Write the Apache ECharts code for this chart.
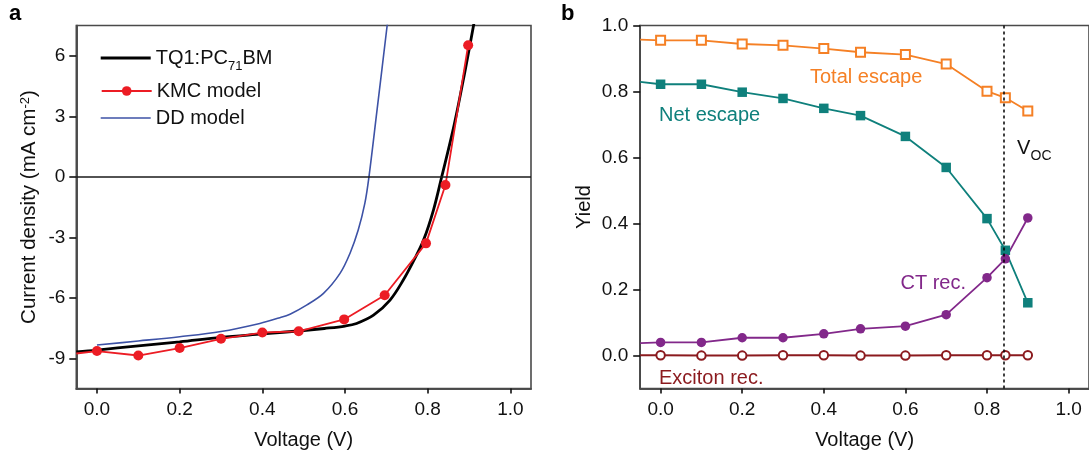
<!DOCTYPE html>
<html>
<head>
<meta charset="utf-8">
<title>J-V characteristics and charge yields</title>
<script src="https://cdn.jsdelivr.net/npm/echarts@6/dist/echarts.min.js"></script>
<style>
  html, body { margin: 0; padding: 0; background: #fff; }
  #chart { width: 1089px; height: 459px; }
</style>
</head>
<body>
<div id="chart"></div>
<script>
// ---- Panel a: current density vs voltage ----
const expV = [-0.05, 0, 0.1, 0.2, 0.3, 0.4, 0.5, 0.55, 0.6, 0.628, 0.669, 0.709, 0.741, 0.765, 0.79, 0.814, 0.834, 0.864, 0.89, 0.911, 0.93];
const expJ = [-8.68, -8.59, -8.38, -8.18, -7.96, -7.79, -7.62, -7.52, -7.40, -7.27, -6.86, -6.11, -5.12, -4.21, -3.14, -1.65, 0, 2.56, 5.2, 7.5, 9.6];

const kmcV = [-0.05, 0, 0.1, 0.2, 0.3, 0.4, 0.488, 0.598, 0.696, 0.796, 0.843, 0.898];
const kmcJ = [-8.76, -8.64, -8.86, -8.49, -8.03, -7.72, -7.66, -7.07, -5.87, -3.30, -0.41, 6.52];

const ddV = [0, 0.1, 0.2, 0.3, 0.394, 0.44, 0.467, 0.507, 0.548, 0.588, 0.612, 0.632, 0.648, 0.658, 0.677, 0.702, 0.71];
const ddJ = [-8.34, -8.14, -7.93, -7.67, -7.27, -7.0, -6.81, -6.36, -5.78, -4.79, -3.80, -2.64, -1.32, 0, 3.22, 7.5, 9.0];

const jTicks = [-9, -6, -3, 0, 3, 6];
const vTicks = [0, 0.2, 0.4, 0.6, 0.8, 1.0];

// ---- Panel b: yields vs voltage ----
const yieldV = [-0.05, 0, 0.1, 0.2, 0.3, 0.4, 0.49, 0.6, 0.7, 0.8, 0.845, 0.9];
const totalEscape = [0.957, 0.955, 0.955, 0.944, 0.940, 0.930, 0.919, 0.912, 0.883, 0.801, 0.781, 0.741];
const netEscape = [0.829, 0.822, 0.822, 0.798, 0.779, 0.749, 0.727, 0.664, 0.570, 0.415, 0.319, 0.160];
const ctRec = [0.038, 0.040, 0.040, 0.054, 0.054, 0.066, 0.081, 0.089, 0.124, 0.236, 0.293, 0.417];
const excitonRec = [0.001, 0.001, 0.000, 0.000, 0.001, 0.001, 0.000, 0.000, 0.001, 0.001, 0.001, 0.001];
const yieldTicks = [0, 0.2, 0.4, 0.6, 0.8, 1.0];
const vocValue = 0.84;

const FONT = '"Liberation Sans", Arial, Helvetica, sans-serif';
const FRAME = '#4a4a4a';

// pair x/y arrays; the first point may sit on the frame edge without a marker
function pairs(xs, ys, hideFirst) {
  return xs.map((x, i) => {
    const item = { value: [x, ys[i]] };
    if (hideFirst && i === 0) item.symbol = 'none';
    return item;
  });
}

// labelled axis (frame line, tick labels, title)
function valueAxis(gridIndex, position, min, max, ticks, fmt, margin, extra) {
  return Object.assign({
    type: 'value',
    gridIndex, position, offset: 0,
    min, max,
    axisLine: { show: true, onZero: false, lineStyle: { color: FRAME, width: 1.6 } },
    axisTick: { show: false },
    axisLabel: {
      customValues: ticks,
      formatter: fmt,
      color: '#111',
      fontSize: 19,
      fontFamily: FONT,
      margin
    },
    splitLine: { show: false },
    nameTextStyle: { color: '#111', fontSize: 20, fontFamily: FONT }
  }, extra);
}

// companion axis on the same side that only carries the outward tick marks
function tickAxis(gridIndex, position, min, max, ticks, tickLen) {
  return {
    type: 'value',
    gridIndex, position, offset: 0,
    min, max,
    silent: true,
    axisLine: { show: true, onZero: false, lineStyle: { color: FRAME, width: 1.6 } },
    axisTick: { show: true, inside: false, length: tickLen, customValues: ticks,
      lineStyle: { color: '#111', width: 1.6 } },
    axisLabel: { show: false, customValues: ticks },
    splitLine: { show: false }
  };
}

const chart = echarts.init(document.getElementById('chart'), null, { renderer: 'canvas' });

const legendText = { color: '#111', fontSize: 20, fontFamily: FONT };

const option = {
  animation: false,
  backgroundColor: '#fff',
  textStyle: { fontFamily: FONT },
  grid: [
    { left: 76.3, top: 25.5, width: 454.7, height: 363.1, show: true,
      borderColor: FRAME, borderWidth: 1.6, backgroundColor: 'transparent', containLabel: false },
    { left: 640.2, top: 25.5, width: 453.8, height: 363.1, show: true,
      borderColor: FRAME, borderWidth: 1.6, backgroundColor: 'transparent', containLabel: false }
  ],
  xAxis: [
    valueAxis(0, 'bottom', -0.05, 1.05, vTicks, v => v.toFixed(1), 12,
      { name: 'Voltage (V)', nameLocation: 'middle', nameGap: 42 }),
    valueAxis(1, 'bottom', -0.05, 1.05, vTicks, v => v.toFixed(1), 12,
      { name: 'Voltage (V)', nameLocation: 'middle', nameGap: 42 }),
    tickAxis(0, 'bottom', -0.05, 1.05, vTicks, 5),
    tickAxis(1, 'bottom', -0.05, 1.05, vTicks, 5)
  ],
  yAxis: [
    valueAxis(0, 'left', -10.5, 7.5, jTicks, v => String(v), 11, {
      name: 'Current density (mA cm{sup|-2})', nameLocation: 'middle', nameGap: 36,
      nameTextStyle: {
        color: '#111', fontSize: 20.5, fontFamily: FONT,
        rich: { sup: { fontSize: 13, fontFamily: FONT, color: '#111', verticalAlign: 'top', lineHeight: 13 } }
      }
    }),
    valueAxis(1, 'left', -0.1, 1.0, yieldTicks, v => v.toFixed(1), 12,
      { name: 'Yield', nameLocation: 'middle', nameGap: 46 }),
    tickAxis(0, 'left', -10.5, 7.5, jTicks, 7),
    tickAxis(1, 'left', -0.1, 1.0, yieldTicks, 7)
  ],
  legend: [
    { data: [{ name: 'TQ1:PC71BM', icon: 'rect' }], left: 100.7, top: 48, padding: 0,
      itemWidth: 50, itemHeight: 3,
      formatter: () => 'TQ1:PC{sub|71}BM',
      textStyle: Object.assign({}, legendText, {
        rich: { sub: { fontSize: 13, fontFamily: FONT, color: '#111', verticalAlign: 'bottom', lineHeight: 13, padding: [0, 0, -5, 0] } } }) },
    { data: ['KMC model'], left: 100.7, top: 81, padding: 0, itemWidth: 50, itemHeight: 12,
      textStyle: legendText },
    { data: [{ name: 'DD model', icon: 'rect' }], left: 100.7, top: 108, padding: 0,
      itemWidth: 50, itemHeight: 1.7, textStyle: legendText }
  ],
  series: [
    {
      name: 'DD model', type: 'line', xAxisIndex: 0, yAxisIndex: 0,
      data: pairs(ddV, ddJ, false), showSymbol: false, symbol: 'none',
      smooth: 0.35, clip: true, z: 2,
      lineStyle: { color: '#3d52a6', width: 1.6 }, itemStyle: { color: '#3d52a6' }
    },
    {
      name: 'TQ1:PC71BM', type: 'line', xAxisIndex: 0, yAxisIndex: 0,
      data: pairs(expV, expJ, false), showSymbol: false, symbol: 'none',
      smooth: 0.35, clip: true, z: 3,
      lineStyle: { color: '#000', width: 2.8 }, itemStyle: { color: '#000' },
      markLine: {
        silent: true, symbol: 'none', label: { show: false },
        lineStyle: { color: '#1a1a1a', width: 1.6, type: 'solid' },
        data: [{ yAxis: 0 }]
      }
    },
    {
      name: 'KMC model', type: 'line', xAxisIndex: 0, yAxisIndex: 0,
      data: pairs(kmcV, kmcJ, true), symbol: 'circle', symbolSize: 10, clip: true, z: 4,
      lineStyle: { color: '#ec1c24', width: 1.8 }, itemStyle: { color: '#ec1c24' }
    },
    {
      name: 'Total escape', type: 'line', xAxisIndex: 1, yAxisIndex: 1,
      data: pairs(yieldV, totalEscape, true), symbol: 'emptyRect', symbolSize: 9, clip: true, z: 3,
      lineStyle: { color: '#f58025', width: 1.8 }, itemStyle: { color: '#f58025', borderWidth: 1.3 },
      markLine: {
        silent: true, symbol: 'none', label: { show: false },
        lineStyle: { color: '#000', width: 1.5, type: [3, 3] },
        data: [{ xAxis: vocValue }]
      }
    },
    {
      name: 'Net escape', type: 'line', xAxisIndex: 1, yAxisIndex: 1,
      data: pairs(yieldV, netEscape, true), symbol: 'rect', symbolSize: 9.5, clip: true, z: 4,
      lineStyle: { color: '#0f807c', width: 1.8 }, itemStyle: { color: '#0f807c' }
    },
    {
      name: 'CT rec.', type: 'line', xAxisIndex: 1, yAxisIndex: 1,
      data: pairs(yieldV, ctRec, true), symbol: 'circle', symbolSize: 9.5, clip: true, z: 4,
      lineStyle: { color: '#82288a', width: 1.8 }, itemStyle: { color: '#82288a' }
    },
    {
      name: 'Exciton rec.', type: 'line', xAxisIndex: 1, yAxisIndex: 1,
      data: pairs(yieldV, excitonRec, true), symbol: 'emptyCircle', symbolSize: 8.5, clip: true, z: 3,
      lineStyle: { color: '#8b1a1e', width: 2 }, itemStyle: { color: '#8b1a1e', borderWidth: 1.3 }
    }
  ],
  graphic: [
    { type: 'text', x: 9, y: 14, style: { text: 'a', fill: '#000', font: 'bold 22px ' + FONT, verticalAlign: 'middle' } },
    { type: 'text', x: 561, y: 14, style: { text: 'b', fill: '#000', font: 'bold 22px ' + FONT, verticalAlign: 'middle' } },
    { type: 'text', x: 810, y: 77.6, style: { text: 'Total escape', fill: '#f58025', font: '20px ' + FONT, verticalAlign: 'middle' } },
    { type: 'text', x: 659, y: 115.7, style: { text: 'Net escape', fill: '#0f807c', font: '20px ' + FONT, verticalAlign: 'middle' } },
    { type: 'text', x: 966, y: 283, style: { text: 'CT rec.', fill: '#82288a', font: '20px ' + FONT, align: 'right', verticalAlign: 'middle' } },
    { type: 'text', x: 659, y: 378.5, style: { text: 'Exciton rec.', fill: '#8b1a1e', font: '20px ' + FONT, verticalAlign: 'middle' } },
    { type: 'text', x: 1017, y: 148.5, style: { text: 'V', fill: '#111', font: '20px ' + FONT, verticalAlign: 'middle' } },
    { type: 'text', x: 1030.5, y: 156.5, style: { text: 'OC', fill: '#111', font: '14px ' + FONT, verticalAlign: 'middle' } }
  ]
};

chart.setOption(option);
</script>
</body>
</html>
